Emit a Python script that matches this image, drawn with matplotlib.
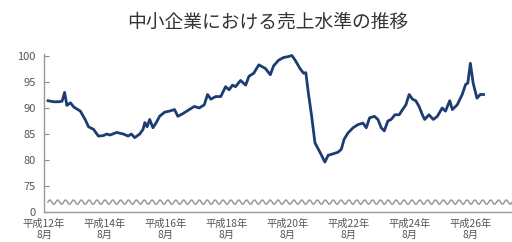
import numpy as np
import matplotlib
matplotlib.use("Agg")
import matplotlib.pyplot as plt

plt.rcParams['font.family'] = ['Noto Sans CJK JP', 'DejaVu Sans']

title = "中小企業における売上水準の推移"

# month index (from start of series) and sales level
months = [0.1, 2.3, 4.3, 5.6, 6.6, 7.5, 8.9, 10.2, 12.8, 14.7, 16.0, 18.0, 19.9, 21.9,
          23.2, 24.5, 27.1, 29.7, 31.6, 32.9, 34.2, 36.2, 37.5, 38.2, 39.1, 40.1, 41.4,
          42.7, 44.0, 46.0, 47.9, 49.9, 51.2, 53.1, 55.7, 57.7, 59.6, 61.6, 62.9, 64.2,
          66.1, 68.1, 70.0, 71.4, 72.7, 73.9, 75.9, 77.9, 79.2, 81.1, 83.1, 85.7, 87.6,
          88.9, 90.9, 92.8, 94.8, 96.1, 97.4, 99.3, 100.7, 101.6, 102.6, 103.9, 105.2,
          106.5, 107.8, 109.1, 110.4, 112.4, 114.3, 115.6, 116.7, 118.2, 120.2, 122.1,
          124.1, 125.4, 126.7, 128.6, 130.0, 131.3, 132.5, 133.9, 135.2, 136.7, 138.4,
          139.7, 141.0, 142.3, 143.6, 144.9, 146.2, 147.5, 148.4, 150.1, 151.8, 153.4,
          155.3, 156.6, 158.3, 159.3, 161.2, 163.2, 164.5, 165.4, 166.4, 167.5, 169.0,
          170.3, 171.6]
values = [91.4, 91.2, 91.2, 91.3, 93.0, 90.5, 91.0, 90.2, 89.4, 87.8, 86.4, 85.9, 84.6, 84.7,
          85.0, 84.8, 85.3, 85.0, 84.6, 85.0, 84.3, 85.0, 85.9, 87.2, 86.4, 87.8, 86.2,
          87.2, 88.4, 89.2, 89.4, 89.7, 88.4, 88.9, 89.7, 90.3, 90.0, 90.6, 92.6, 91.7,
          92.2, 92.2, 94.1, 93.5, 94.4, 94.1, 95.3, 94.4, 96.1, 96.7, 98.3, 97.6, 96.4,
          98.1, 99.2, 99.7, 99.9, 100.1, 99.2, 97.6, 96.7, 96.8, 92.9, 88.4, 83.3,
          82.1, 80.9, 79.6, 80.9, 81.2, 81.5, 82.1, 84.0, 85.2, 86.2, 86.8,
          87.1, 86.2, 88.1, 88.4, 87.8, 86.2, 85.6, 87.5, 87.8, 88.7, 88.7,
          89.7, 90.6, 92.6, 91.7, 91.4, 90.3, 88.7, 87.8, 88.7, 87.8, 88.4,
          90.0, 89.4, 91.4, 89.7, 90.6, 92.6, 94.5, 94.8, 98.6, 94.8, 91.9,
          92.6, 92.6]

xtick_pos = [-1.5, 22.5, 46.5, 70.5, 94.5, 118.5, 142.5, 166.5]
xtick_labels = ["平成12年\n8月", "平成14年\n8月", "平成16年\n8月", "平成18年\n8月",
                "平成20年\n8月", "平成22年\n8月", "平成24年\n8月", "平成26年\n8月"]
ytick_pos = [70, 75, 80, 85, 90, 95, 100]
ytick_labels = ["0", "75", "80", "85", "90", "95", "100"]

fig = plt.figure(figsize=(5.12, 2.42), dpi=100)
ax = fig.add_axes([0.086, 0.124, 0.914, 0.651])

ax.plot(months, values, color="#1c3c72", lw=2.0, solid_joinstyle="round")

# axis-break wave
wx = np.linspace(0, 183, 800)
ax.plot(wx, 71.9 + 0.4 * np.sin(wx * 2 * np.pi / 3.1), color="#999999", lw=1.1)

ax.set_xlim(0, 182.8)
ax.set_ylim(70, 100.3)
ax.set_yticks(ytick_pos)
ax.set_yticklabels(ytick_labels)
ax.set_xticks(xtick_pos)
ax.set_xticklabels(xtick_labels, fontsize=7.4, color="#555555", linespacing=1.05)
ax.tick_params(axis='x', length=0, pad=5)
ax.tick_params(axis='y', direction='in', length=3.5, color="#888888", labelsize=8,
               labelcolor="#555555", pad=6)
for s in ["top", "right"]:
    ax.spines[s].set_visible(False)
for s in ["left", "bottom"]:
    ax.spines[s].set_color("#999999")
    ax.spines[s].set_linewidth(1.0)

fig.text(268 / 512, 1 - 22 / 242, title, ha="center", va="center", fontsize=13.5,
         color="#333333")

fig.savefig("out.png", dpi=100)
